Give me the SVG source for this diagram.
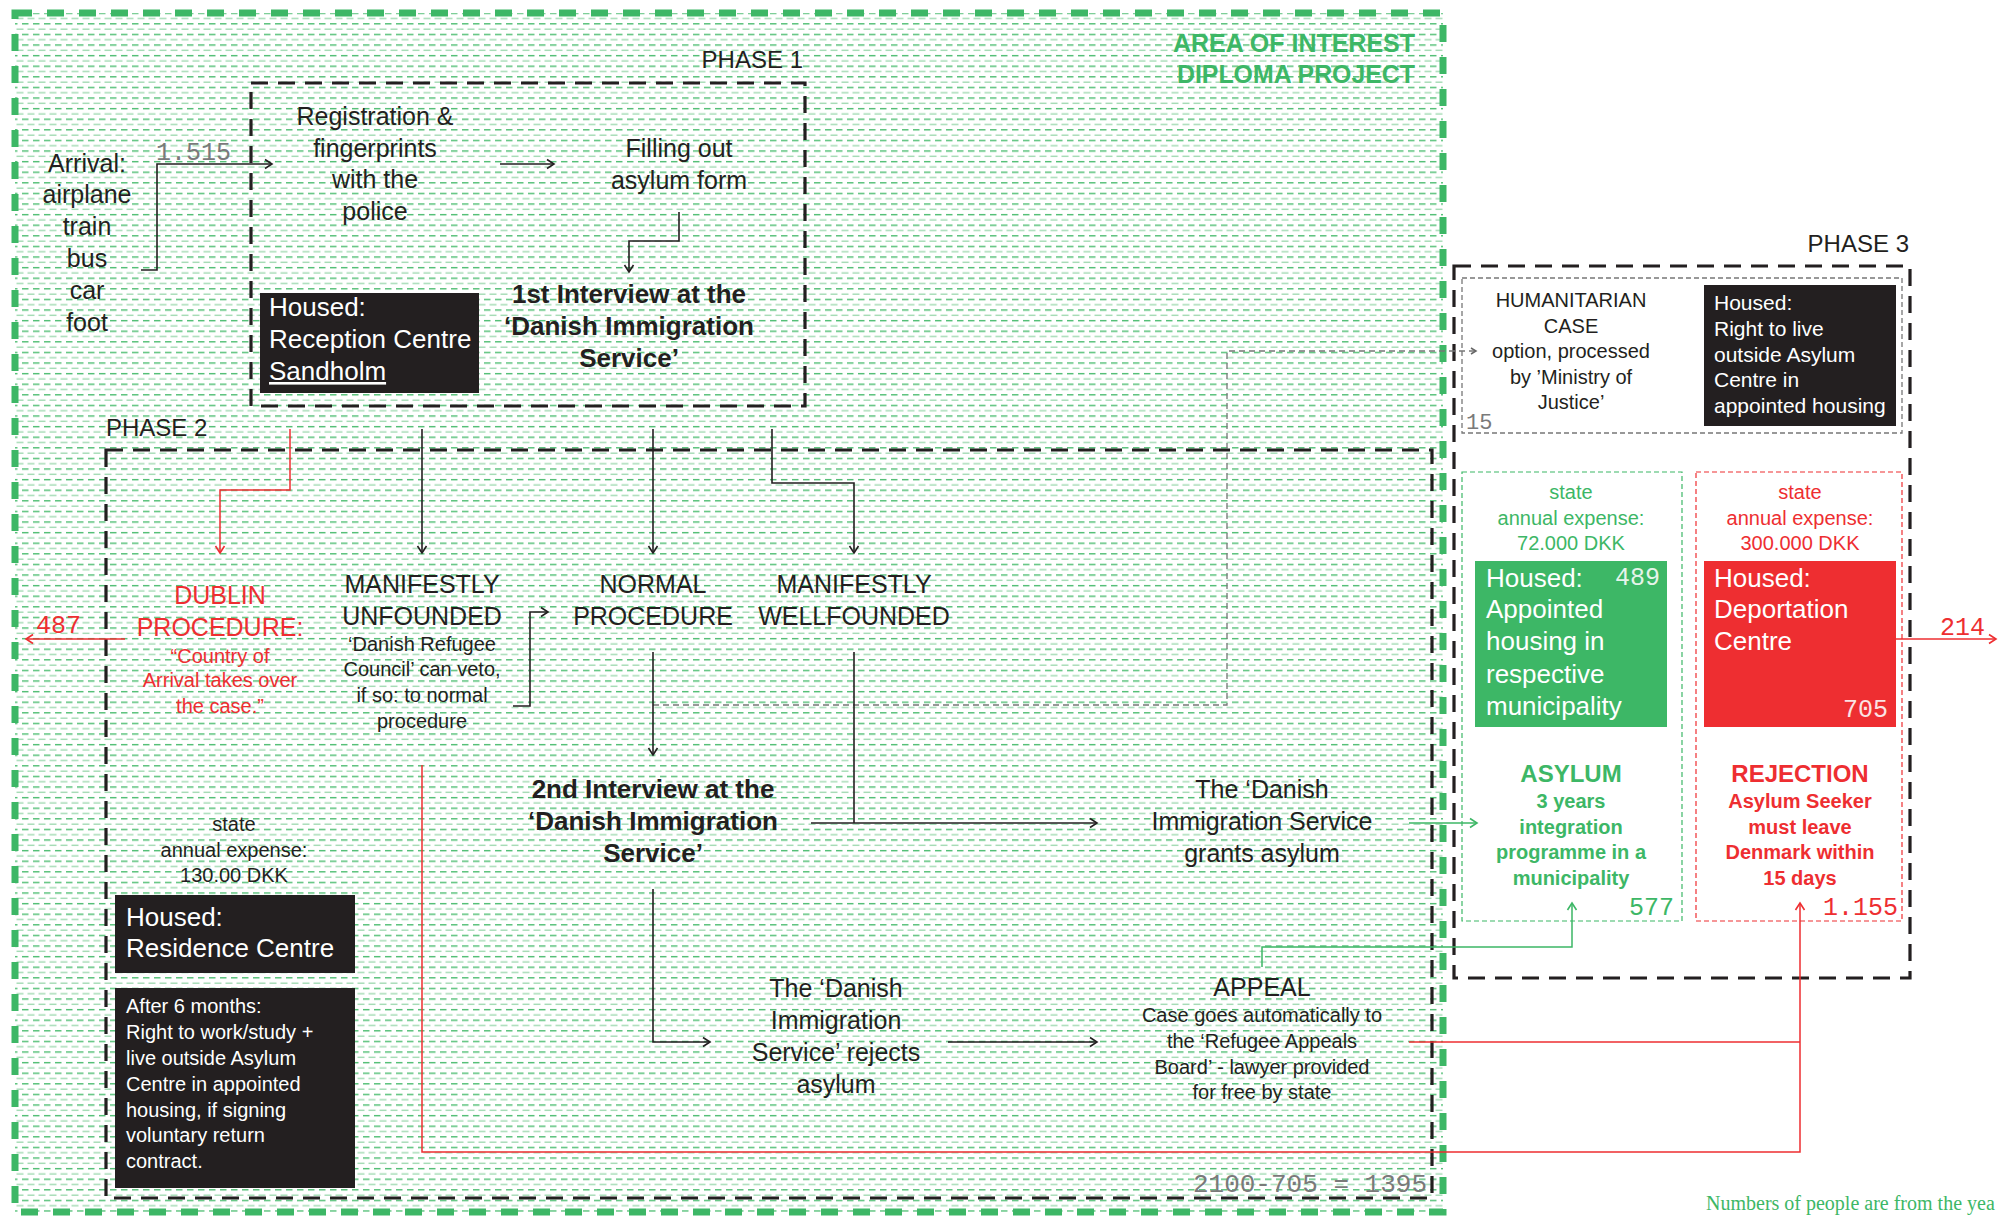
<svg xmlns="http://www.w3.org/2000/svg" width="2005" height="1216" viewBox="0 0 2005 1216">
<defs>
<pattern id="hatch" width="11" height="10.6" patternUnits="userSpaceOnUse">
<rect x="0" y="2" width="6.5" height="1.3" fill="#3fb866"/>
<rect x="5.5" y="7.3" width="7" height="1.3" fill="#9ad8ac"/>
<rect x="-5.5" y="7.3" width="7" height="1.3" fill="#9ad8ac"/>
</pattern>
<marker id="ak" viewBox="-9 -6 11 12" refX="0" refY="0" markerWidth="11" markerHeight="12" markerUnits="userSpaceOnUse" orient="auto"><path d="M-7,-4.5 L0,0 L-7,4.5" fill="none" stroke="#231f20" stroke-width="1.6"/></marker>
<marker id="ar" viewBox="-9 -6 11 12" refX="0" refY="0" markerWidth="11" markerHeight="12" markerUnits="userSpaceOnUse" orient="auto"><path d="M-7,-4.5 L0,0 L-7,4.5" fill="none" stroke="#ee2e31" stroke-width="1.6"/></marker>
<marker id="ag" viewBox="-9 -6 11 12" refX="0" refY="0" markerWidth="11" markerHeight="12" markerUnits="userSpaceOnUse" orient="auto"><path d="M-7,-4.5 L0,0 L-7,4.5" fill="none" stroke="#3db766" stroke-width="1.6"/></marker>
<marker id="ad" viewBox="-9 -6 11 12" refX="0" refY="0" markerWidth="11" markerHeight="12" markerUnits="userSpaceOnUse" orient="auto"><path d="M-5,-3 L0,0 L-5,3" fill="none" stroke="#666" stroke-width="1.5"/></marker>
</defs>
<style>
.t{font-family:"Liberation Sans",Arial,sans-serif;fill:#231f20;text-anchor:middle}
.l{font-size:25px}
.s{font-size:20px}
.bb{font-weight:bold;font-size:26px}
.m{font-family:"Liberation Mono","Courier New",monospace;fill:#7a7a7a;font-size:25px}
.w{fill:#fff;text-anchor:start}
.red{fill:#ee2e31}
.grn{fill:#3db766}
.ph{font-family:"Liberation Sans",Arial,sans-serif;fill:#231f20;font-size:24px}
.phase{fill:none;stroke:#231f20;stroke-width:3.2;stroke-dasharray:17 10}
.c{fill:none;stroke:#231f20;stroke-width:1.6}
.cr{fill:none;stroke:#ee2e31;stroke-width:1.5}
.cg{fill:none;stroke:#3db766;stroke-width:1.5}
.cd{fill:none;stroke:#777;stroke-width:1.3;stroke-dasharray:6 4}
.blk{fill:#231f20}
</style>
<rect width="2005" height="1216" fill="#fff"/>
<g id="area">
<rect x="15" y="13" width="1428" height="1199" fill="url(#hatch)"/>
<rect x="15" y="13" width="1428" height="1199" fill="none" stroke="#3db766" stroke-width="7" stroke-dasharray="17 15"/>
<text x="1415" y="52" class="t grn" style="text-anchor:end;font-weight:bold;font-size:25px" textLength="242" lengthAdjust="spacingAndGlyphs">AREA OF INTEREST</text>
<text x="1415" y="83" class="t grn" style="text-anchor:end;font-weight:bold;font-size:25px" textLength="238" lengthAdjust="spacingAndGlyphs">DIPLOMA PROJECT</text>
</g>
<g id="phase1">
<rect x="251" y="83" width="554" height="323" class="phase"/>
<text x="803" y="68" class="ph" text-anchor="end">PHASE 1</text>
</g>
<g id="phase2">
<rect x="106" y="450" width="1326" height="748" class="phase"/>
<text x="106" y="436" class="ph">PHASE 2</text>
</g>
<g id="phase3">
<rect x="1454" y="266" width="456" height="712" class="phase"/>
<text x="1909" y="252" class="ph" text-anchor="end">PHASE 3</text>
</g>
<g id="connectors">
<path d="M141,270 H157 V164 H272" class="c" marker-end="url(#ak)"/>
<path d="M500,164 H554" class="c" marker-end="url(#ak)"/>
<path d="M679,212 V241 H629 V272" class="c" marker-end="url(#ak)"/>
<path d="M290,429 V490 H220 V553" class="cr" marker-end="url(#ar)"/>
<path d="M422,429 V553" class="c" marker-end="url(#ak)"/>
<path d="M653,429 V553" class="c" marker-end="url(#ak)"/>
<path d="M772,429 V483 H854 V553" class="c" marker-end="url(#ak)"/>
<path d="M125,639 H26" class="cr" marker-end="url(#ar)"/>
<path d="M513,706 H530 V612 H548" class="c" marker-end="url(#ak)"/>
<path d="M653,705 H1227 V351 H1476" class="cd" marker-end="url(#ad)"/>
<path d="M653,652 V755" class="c" marker-end="url(#ak)"/>
<path d="M854,652 V823" class="c"/>
<path d="M811,823 H1097" class="c" marker-end="url(#ak)"/>
<path d="M653,889 V1042 H710" class="c" marker-end="url(#ak)"/>
<path d="M948,1042 H1097" class="c" marker-end="url(#ak)"/>
<path d="M1409,823 H1477" class="cg" marker-end="url(#ag)"/>
<path d="M1262,967 V947 H1572 V903" class="cg" marker-end="url(#ag)"/>
<path d="M1409,1042 H1800" class="cr"/>
<path d="M422,765 V1152 H1800 V903" class="cr" marker-end="url(#ar)"/>
<path d="M1896,639 H1996" class="cr" marker-end="url(#ar)"/>
</g>
<g id="arrival">
<text class="t l" x="87" y="172">Arrival:</text>
<text class="t l" x="87" y="203">airplane</text>
<text class="t l" x="87" y="235">train</text>
<text class="t l" x="87" y="267">bus</text>
<text class="t l" x="87" y="299">car</text>
<text class="t l" x="87" y="331">foot</text>
</g>
<g id="n1515"><text class="m" x="156" y="160">1.515</text></g>
<g id="registration">
<text class="t l" x="375" y="125">Registration &amp;</text>
<text class="t l" x="375" y="157">fingerprints</text>
<text class="t l" x="375" y="188">with the</text>
<text class="t l" x="375" y="220">police</text>
</g>
<g id="filling">
<text class="t l" x="679" y="157">Filling out</text>
<text class="t l" x="679" y="189">asylum form</text>
</g>
<g id="interview1">
<text class="t bb" x="629" y="303">1st Interview at the</text>
<text class="t bb" x="629" y="335">‘Danish Immigration</text>
<text class="t bb" x="629" y="367">Service’</text>
</g>
<g id="reception">
<rect x="260" y="293" width="219" height="100" class="blk"/>
<text class="t w" x="269" y="316" style="font-size:26px">Housed:</text>
<text class="t w" x="269" y="348" style="font-size:26px">Reception Centre</text>
<text class="t w" x="269" y="380" style="font-size:26px" text-decoration="underline">Sandholm</text>
</g>
<g id="dublin">
<text class="t l red" x="220" y="604">DUBLIN</text>
<text class="t l red" x="220" y="636">PROCEDURE:</text>
<text class="t s red" x="220" y="663">“Country of</text>
<text class="t s red" x="220" y="687">Arrival takes over</text>
<text class="t s red" x="220" y="713">the case.”</text>
</g>
<g id="n487"><text class="m red" x="36" y="633">487</text></g>
<g id="unfounded">
<text class="t l" x="422" y="593">MANIFESTLY</text>
<text class="t l" x="422" y="625">UNFOUNDED</text>
<text class="t s" x="422" y="651">‘Danish Refugee</text>
<text class="t s" x="422" y="676">Council’ can veto,</text>
<text class="t s" x="422" y="702">if so: to normal</text>
<text class="t s" x="422" y="728">procedure</text>
</g>
<g id="normal">
<text class="t l" x="653" y="593">NORMAL</text>
<text class="t l" x="653" y="625">PROCEDURE</text>
</g>
<g id="wellfounded">
<text class="t l" x="854" y="593">MANIFESTLY</text>
<text class="t l" x="854" y="625">WELLFOUNDED</text>
</g>
<g id="interview2">
<text class="t bb" x="653" y="798">2nd Interview at the</text>
<text class="t bb" x="653" y="830">‘Danish Immigration</text>
<text class="t bb" x="653" y="862">Service’</text>
</g>
<g id="grants">
<text class="t l" x="1262" y="798">The ‘Danish</text>
<text class="t l" x="1262" y="830">Immigration Service</text>
<text class="t l" x="1262" y="862">grants asylum</text>
</g>
<g id="rejects">
<text class="t l" x="836" y="997">The ‘Danish</text>
<text class="t l" x="836" y="1029">Immigration</text>
<text class="t l" x="836" y="1061">Service’ rejects</text>
<text class="t l" x="836" y="1093">asylum</text>
</g>
<g id="appeal">
<text class="t l" x="1262" y="996">APPEAL</text>
<text class="t s" x="1262" y="1022">Case goes automatically to</text>
<text class="t s" x="1262" y="1048">the ‘Refugee Appeals</text>
<text class="t s" x="1262" y="1074">Board’ - lawyer provided</text>
<text class="t s" x="1262" y="1099">for free by state</text>
</g>
<g id="n1395"><text class="m" x="1427" y="1192" text-anchor="end" style="font-size:26px">2100-705 = 1395</text></g>
<g id="expense2">
<text class="t s" x="234" y="831">state</text>
<text class="t s" x="234" y="857">annual expense:</text>
<text class="t s" x="234" y="882">130.00 DKK</text>
</g>
<g id="residence">
<rect x="115" y="895" width="240" height="78" class="blk"/>
<text class="t w" x="126" y="926" style="font-size:26px">Housed:</text>
<text class="t w" x="126" y="957" style="font-size:26px">Residence Centre</text>
</g>
<g id="after6">
<rect x="115" y="988" width="240" height="200" class="blk"/>
<text class="t s w" x="126" y="1013">After 6 months:</text>
<text class="t s w" x="126" y="1039">Right to work/study +</text>
<text class="t s w" x="126" y="1065">live outside Asylum</text>
<text class="t s w" x="126" y="1091">Centre in appointed</text>
<text class="t s w" x="126" y="1117">housing, if signing</text>
<text class="t s w" x="126" y="1142">voluntary return</text>
<text class="t s w" x="126" y="1168">contract.</text>
</g>
<g id="humanitarian">
<rect x="1462" y="278" width="440" height="155" fill="none" stroke="#777" stroke-width="1.3" stroke-dasharray="5 3"/>
<text class="t s" x="1571" y="307">HUMANITARIAN</text>
<text class="t s" x="1571" y="333">CASE</text>
<text class="t s" x="1571" y="358">option, processed</text>
<text class="t s" x="1571" y="384">by ’Ministry of</text>
<text class="t s" x="1571" y="409">Justice’</text>
<text class="m" x="1466" y="429" style="font-size:22px">15</text>
<rect x="1704" y="285" width="192" height="141" class="blk"/>
<text class="t w" x="1714" y="310" style="font-size:21px">Housed:</text>
<text class="t w" x="1714" y="336" style="font-size:21px">Right to live</text>
<text class="t w" x="1714" y="362" style="font-size:21px">outside Asylum</text>
<text class="t w" x="1714" y="387" style="font-size:21px">Centre in</text>
<text class="t w" x="1714" y="413" style="font-size:21px">appointed housing</text>
</g>
<g id="asylum">
<rect x="1462" y="472" width="220" height="449" fill="none" stroke="#3db766" stroke-width="1.2" stroke-dasharray="5 3"/>
<text class="t s grn" x="1571" y="499">state</text>
<text class="t s grn" x="1571" y="525">annual expense:</text>
<text class="t s grn" x="1571" y="550">72.000 DKK</text>
<rect x="1475" y="561" width="192" height="166" fill="#3db766"/>
<text class="t w" x="1486" y="587" style="font-size:26px">Housed:</text>
<text class="t w" x="1486" y="618" style="font-size:26px">Appointed</text>
<text class="t w" x="1486" y="650" style="font-size:26px">housing in</text>
<text class="t w" x="1486" y="683" style="font-size:26px">respective</text>
<text class="t w" x="1486" y="715" style="font-size:26px">municipality</text>
<text class="m" x="1660" y="585" text-anchor="end" style="fill:#e6f4ea">489</text>
<text class="t grn" x="1571" y="782" style="font-weight:bold;font-size:24px">ASYLUM</text>
<text class="t grn" x="1571" y="808" style="font-weight:bold;font-size:20px">3 years</text>
<text class="t grn" x="1571" y="834" style="font-weight:bold;font-size:20px">integration</text>
<text class="t grn" x="1571" y="859" style="font-weight:bold;font-size:20px">programme in a</text>
<text class="t grn" x="1571" y="885" style="font-weight:bold;font-size:20px">municipality</text>
<text class="m grn" x="1674" y="915" text-anchor="end">577</text>
</g>
<g id="rejection">
<rect x="1696" y="472" width="206" height="449" fill="none" stroke="#ee2e31" stroke-width="1.2" stroke-dasharray="5 3"/>
<text class="t s red" x="1800" y="499">state</text>
<text class="t s red" x="1800" y="525">annual expense:</text>
<text class="t s red" x="1800" y="550">300.000 DKK</text>
<rect x="1704" y="561" width="192" height="166" fill="#ee2e31"/>
<text class="t w" x="1714" y="587" style="font-size:26px">Housed:</text>
<text class="t w" x="1714" y="618" style="font-size:26px">Deportation</text>
<text class="t w" x="1714" y="650" style="font-size:26px">Centre</text>
<text class="m" x="1888" y="717" text-anchor="end" style="fill:#fbe3e3">705</text>
<text class="t red" x="1800" y="782" style="font-weight:bold;font-size:24px">REJECTION</text>
<text class="t red" x="1800" y="808" style="font-weight:bold;font-size:20px">Asylum Seeker</text>
<text class="t red" x="1800" y="834" style="font-weight:bold;font-size:20px">must leave</text>
<text class="t red" x="1800" y="859" style="font-weight:bold;font-size:20px">Denmark within</text>
<text class="t red" x="1800" y="885" style="font-weight:bold;font-size:20px">15 days</text>
<text class="m red" x="1898" y="915" text-anchor="end">1.155</text>
</g>
<g id="n214"><text class="m red" x="1940" y="635">214</text></g>
<g id="note"><text x="1706" y="1210" style="font-family:'Liberation Serif','Times New Roman',serif;font-size:20px;fill:#3db766">Numbers of people are from the yea</text></g>
</svg>
